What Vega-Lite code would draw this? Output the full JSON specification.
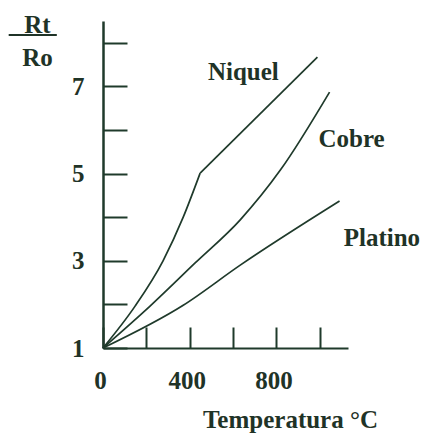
{
  "$schema": "https://vega.github.io/schema/vega-lite/v6.json",
  "width": 245,
  "height": 327,
  "autosize": {"type": "none"},
  "padding": {"left": 103, "top": 21, "right": 73, "bottom": 87},
  "background": "white",
  "config": {"view": {"stroke": null}, "font": "Liberation Serif"},
  "datasets": {
    "curves": [
      {"metal": "Niquel-a", "t": 0, "r": 1},
      {"metal": "Niquel-a", "t": 148, "r": 1.96},
      {"metal": "Niquel-a", "t": 277, "r": 3.0},
      {"metal": "Niquel-a", "t": 370, "r": 4.0},
      {"metal": "Niquel-a", "t": 448, "r": 5.01},
      {"metal": "Niquel-b", "t": 448, "r": 5.01},
      {"metal": "Niquel-b", "t": 989, "r": 7.67},
      {"metal": "Cobre", "t": 0, "r": 1},
      {"metal": "Cobre", "t": 217, "r": 1.96},
      {"metal": "Cobre", "t": 425, "r": 2.95},
      {"metal": "Cobre", "t": 633, "r": 3.94},
      {"metal": "Cobre", "t": 818, "r": 5.08},
      {"metal": "Cobre", "t": 1045, "r": 6.87},
      {"metal": "Platino", "t": 0, "r": 1},
      {"metal": "Platino", "t": 370, "r": 1.98},
      {"metal": "Platino", "t": 633, "r": 2.9},
      {"metal": "Platino", "t": 1091, "r": 4.37}
    ],
    "labels": [
      {"label": "Niquel", "t": 484, "r": 7.15},
      {"label": "Cobre", "t": 994, "r": 5.61},
      {"label": "Platino", "t": 1110, "r": 3.34}
    ]
  },
  "layer": [
    {
      "data": {"name": "curves"},
      "mark": {"type": "line", "color": "#1f3a2b", "strokeWidth": 1.7, "interpolate": "monotone"},
      "encoding": {
        "x": {
          "field": "t", "type": "quantitative",
          "scale": {"domain": [0, 1130], "nice": false, "zero": false},
          "axis": {
            "values": [0, 200, 400, 600, 800, 1000],
            "labelExpr": "datum.value % 400 == 0 ? datum.label : ''",
            "grid": false,
            "domainColor": "#1f3a2b", "domainWidth": 2,
            "tickColor": "#1f3a2b", "tickWidth": 2, "tickSize": -21,
            "labelFont": "Liberation Serif", "labelFontSize": 25, "labelFontWeight": "bold",
            "labelColor": "#1f3327", "labelPadding": 41, "labelBaseline": "top",
            "labelFlush": false, "labelOffset": -3,
            "title": "Temperatura °C",
            "titleFont": "Liberation Serif", "titleFontSize": 25, "titleFontWeight": "bold",
            "titleColor": "#1f3327",
            "titleX": 187, "titleY": 79, "titleAlign": "center", "titleBaseline": "alphabetic"
          }
        },
        "y": {
          "field": "r", "type": "quantitative",
          "scale": {"domain": [1, 8.5], "nice": false, "zero": false},
          "axis": {
            "values": [1, 2, 3, 4, 5, 6, 7, 8],
            "labelExpr": "datum.value % 2 == 1 ? datum.label : ''",
            "grid": false,
            "domainColor": "#1f3a2b", "domainWidth": 2.5,
            "tickColor": "#1f3a2b", "tickWidth": 2, "tickSize": -24,
            "labelFont": "Liberation Serif", "labelFontSize": 25, "labelFontWeight": "bold",
            "labelColor": "#1f3327", "labelPadding": 43, "labelFlush": false,
            "title": ["Rt", "Ro"],
            "titleFont": "Liberation Serif", "titleFontSize": 25, "titleFontWeight": "bold",
            "titleColor": "#1f3327", "titleAngle": 0,
            "titleX": -66, "titleY": 11, "titleAlign": "center", "titleBaseline": "alphabetic",
            "titleLineHeight": 33
          }
        },
        "detail": {"field": "metal"}
      }
    },
    {
      "data": {"name": "labels"},
      "mark": {"type": "text", "font": "Liberation Serif", "fontSize": 25, "fontWeight": "bold", "color": "#1f3327", "baseline": "alphabetic", "align": "left"},
      "encoding": {
        "x": {"field": "t", "type": "quantitative"},
        "y": {"field": "r", "type": "quantitative"},
        "text": {"field": "label"}
      }
    },
    {
      "data": {"values": [{}]},
      "mark": {"type": "rule", "color": "#1f3327", "strokeWidth": 2},
      "encoding": {
        "x": {"datum": -435, "type": "quantitative"},
        "x2": {"datum": -213},
        "y": {"datum": 8.18, "type": "quantitative"}
      }
    }
  ]
}
